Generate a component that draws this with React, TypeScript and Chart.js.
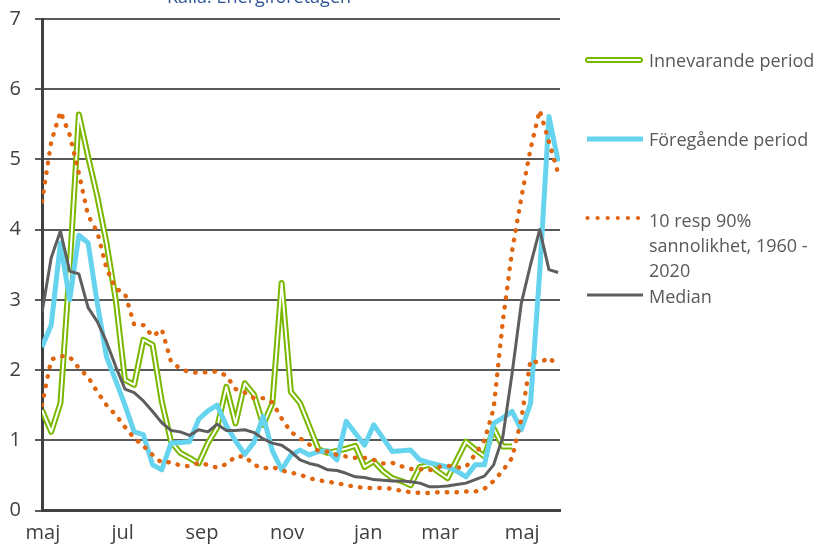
import React, { useEffect, useRef } from 'react';
import { Chart, registerables } from 'chart.js';

Chart.register(...registerables);

// ---- data ----
const weeks = [0, 1, 2, 3, 4, 5, 6, 7, 8, 9, 10, 11, 12, 13, 14, 15, 16, 17, 18, 19, 20, 21, 22, 23, 24, 25, 26, 27, 28, 29, 30, 31, 32, 33, 34, 35, 36, 37, 38, 39, 40, 41, 42, 43, 44, 45, 46, 47, 48, 49, 50, 51, 52, 53, 54, 55, 56];

const innevarande = [1.43, 1.12, 1.53, 3.45, 5.64, 5.04, 4.47, 3.81, 3.0, 1.86, 1.79, 2.43, 2.36, 1.55, 0.98, 0.82, 0.75, 0.67, 0.96, 1.18, 1.76, 1.24, 1.81, 1.65, 1.22, 1.53, 3.24, 1.69, 1.53, 1.2, 0.87, 0.82, 0.85, 0.88, 0.92, 0.62, 0.7, 0.56, 0.46, 0.42, 0.36, 0.62, 0.65, 0.55, 0.46, 0.72, 0.98, 0.87, 0.77, 1.17, 0.91, 0.91, null, null, null, null, null];

const foregaende = [2.33, 2.64, 3.81, 3.0, 3.92, 3.81, 2.95, 2.19, 1.85, 1.5, 1.12, 1.08, 0.65, 0.58, 0.96, 0.97, 0.98, 1.3, 1.42, 1.5, 1.21, 0.99, 0.8, 0.97, 1.34, 0.85, 0.58, 0.79, 0.86, 0.79, 0.84, 0.85, 0.72, 1.27, 1.1, 0.93, 1.22, 1.03, 0.84, 0.85, 0.86, 0.72, 0.68, 0.65, 0.62, 0.56, 0.48, 0.65, 0.65, 1.24, 1.32, 1.41, 1.15, 1.52, 3.4, 5.61, 4.97];

const p90 = [4.4, 5.25, 5.68, 5.35, 4.8, 4.2, 3.97, 3.45, 3.16, 3.09, 2.65, 2.64, 2.48, 2.58, 2.12, 2.02, 1.97, 1.96, 1.97, 1.98, 1.92, 1.73, 1.68, 1.6, 1.6, 1.54, 1.31, 1.12, 1.03, 0.94, 0.85, 0.84, 0.79, 0.77, 0.75, 0.75, 0.72, 0.67, 0.68, 0.63, 0.59, 0.59, 0.57, 0.62, 0.64, 0.61, 0.62, 0.8, 1.0, 1.45, 2.7, 3.7, 4.45, 5.15, 5.7, 5.25, 4.8];

const p10 = [1.5, 2.15, 2.2, 2.19, 2.03, 1.9, 1.69, 1.5, 1.36, 1.19, 1.03, 0.92, 0.79, 0.68, 0.69, 0.64, 0.63, 0.68, 0.65, 0.61, 0.66, 0.77, 0.77, 0.65, 0.6, 0.62, 0.57, 0.54, 0.51, 0.46, 0.43, 0.41, 0.39, 0.36, 0.34, 0.32, 0.32, 0.32, 0.31, 0.28, 0.26, 0.25, 0.25, 0.26, 0.26, 0.26, 0.27, 0.27, 0.31, 0.42, 0.57, 0.75, 1.3, 2.14, 2.1, 2.18, 2.05];

const median = [2.82, 3.6, 3.98, 3.41, 3.37, 2.89, 2.69, 2.4, 2.05, 1.73, 1.68, 1.56, 1.41, 1.25, 1.14, 1.12, 1.07, 1.15, 1.12, 1.23, 1.14, 1.14, 1.15, 1.11, 1.02, 0.96, 0.93, 0.84, 0.72, 0.67, 0.64, 0.58, 0.57, 0.53, 0.48, 0.47, 0.44, 0.43, 0.42, 0.42, 0.41, 0.39, 0.34, 0.34, 0.35, 0.37, 0.39, 0.44, 0.49, 0.65, 1.05, 1.95, 2.95, 3.5, 4.0, 3.43, 3.39];

const monthTicks = [0.1, 8.75, 17.35, 26.6, 35.4, 43.2, 52.1];
const monthLabels = ['maj', 'jul', 'sep', 'nov', 'jan', 'mar', 'maj'];
const yMin = 0;
const yMax = 7;
const yStep = 1;

const legendLabels = [
  ['Innevarande period'],
  ['Föregående period'],
  ['10 resp 90%', 'sannolikhet, 1960 -', '2020'],
  ['Median'],
];
const sourceText = 'Källa: Energiföretagen';

// ---- styles ----
const GREEN = '#7AB800';
const BLUE = '#66D4EE';
const ORANGE = '#E0650F';
const MEDIAN = '#5E5E5E';
const GRID = '#595959';
const AXIS = '#404040';
const TEXT = '#404040';
const LEGEND_TEXT = '#595959';
const FONT = '"Open Sans", "DejaVu Sans", sans-serif';

const toPoints = (vals: (number | null)[]) => vals.map((v, i) => ({ x: weeks[i], y: v }));

const overlayPlugin = {
  id: 'overlay',
  afterDraw(chart: any) {
    const ctx = chart.ctx as CanvasRenderingContext2D;
    ctx.save();
    // source text (cut at top)
    ctx.font = `18px ${FONT}`;
    ctx.fillStyle = '#2F5597';
    ctx.textAlign = 'left';
    ctx.textBaseline = 'alphabetic';
    ctx.fillText(sourceText, 167, 3, 188);

    // legend samples
    ctx.lineCap = 'round';
    ctx.strokeStyle = GREEN;
    ctx.lineWidth = 6;
    ctx.beginPath();
    ctx.moveTo(588, 60);
    ctx.lineTo(640, 60);
    ctx.stroke();
    ctx.strokeStyle = '#ffffff';
    ctx.lineWidth = 2;
    ctx.beginPath();
    ctx.moveTo(588, 60);
    ctx.lineTo(640, 60);
    ctx.stroke();

    ctx.lineCap = 'butt';
    ctx.strokeStyle = BLUE;
    ctx.lineWidth = 5;
    ctx.beginPath();
    ctx.moveTo(587, 139);
    ctx.lineTo(643, 139);
    ctx.stroke();

    ctx.fillStyle = ORANGE;
    for (let i = 0; i < 6; i++) {
      ctx.beginPath();
      ctx.arc(587.5 + 10.1 * i, 218, 2.1, 0, Math.PI * 2);
      ctx.fill();
    }

    ctx.strokeStyle = MEDIAN;
    ctx.lineWidth = 3;
    ctx.beginPath();
    ctx.moveTo(587, 295);
    ctx.lineTo(643, 295);
    ctx.stroke();

    // legend text
    ctx.font = `18px ${FONT}`;
    ctx.fillStyle = LEGEND_TEXT;
    const baselines = [[67.3], [146], [227.3, 251.7, 276.7], [302.7]];
    legendLabels.forEach((lines, i) => {
      lines.forEach((line, j) => {
        ctx.fillText(line, 649, baselines[i][j], 170);
      });
    });
    ctx.restore();
  },
};

export default function App() {
  const canvasRef = useRef<HTMLCanvasElement | null>(null);

  useEffect(() => {
    const canvas = canvasRef.current;
    if (!canvas) return;
    const lineBase = {
      pointRadius: 0,
      pointHoverRadius: 0,
      tension: 0,
      fill: false,
      borderJoinStyle: 'round' as const,
    };
    const chart = new Chart(canvas, {
      type: 'line',
      data: {
        datasets: [
          { ...lineBase, label: 'Median', data: toPoints(median), borderColor: MEDIAN, borderWidth: 3 },
          { ...lineBase, label: '10%', data: toPoints(p10), borderColor: ORANGE, borderWidth: 4.4, borderDash: [0.5, 9.2], borderCapStyle: 'round' },
          { ...lineBase, label: '90%', data: toPoints(p90), borderColor: ORANGE, borderWidth: 4.4, borderDash: [0.5, 9.2], borderCapStyle: 'round' },
          { ...lineBase, label: 'Föregående period', data: toPoints(foregaende), borderColor: BLUE, borderWidth: 5 },
          { ...lineBase, label: 'Innevarande inner', data: toPoints(innevarande), borderColor: '#ffffff', borderWidth: 2 },
          { ...lineBase, label: 'Innevarande period', data: toPoints(innevarande), borderColor: GREEN, borderWidth: 6 },
        ] as any,
      },
      options: {
        animation: false,
        responsive: false,
        devicePixelRatio: 1,
        layout: { padding: { top: 19, right: 260, bottom: 0, left: 0 } },
        plugins: {
          legend: { display: false },
          tooltip: { enabled: false },
        },
        events: [],
        scales: {
          x: {
            type: 'linear',
            min: 0,
            max: 56.2,
            afterBuildTicks: (scale: any) => {
              scale.ticks = monthTicks.map((v) => ({ value: v }));
            },
            afterFit: (scale: any) => {
              scale.height = 33.5;
              scale.paddingLeft = 0;
              scale.paddingRight = 0;
            },
            grid: { display: false, drawTicks: false, tickLength: 0 },
            border: { display: true, color: AXIS, width: 3 },
            ticks: {
              autoSkip: false,
              maxRotation: 0,
              minRotation: 0,
              padding: 11,
              color: TEXT,
              font: { family: FONT, size: 20 },
              callback: (_v: any, i: number) => monthLabels[i],
            },
          },
          y: {
            min: yMin,
            max: yMax,
            afterFit: (scale: any) => {
              scale.width = 42;
              scale.paddingTop = 0;
              scale.paddingBottom = 0;
            },
            grid: { color: GRID, lineWidth: 2, drawTicks: true, tickLength: 7 },
            border: { display: true, color: AXIS, width: 3 },
            ticks: {
              stepSize: yStep,
              padding: 14,
              color: TEXT,
              font: { family: FONT, size: 20 },
            },
          },
        },
      } as any,
      plugins: [overlayPlugin],
    });
    return () => chart.destroy();
  }, []);

  return (
    <div style={{ position: 'fixed', left: 0, top: 0, width: 820, height: 544, background: '#ffffff' }}>
      <canvas ref={canvasRef} width={820} height={544} style={{ width: 820, height: 544, display: 'block' }} />
    </div>
  );
}
